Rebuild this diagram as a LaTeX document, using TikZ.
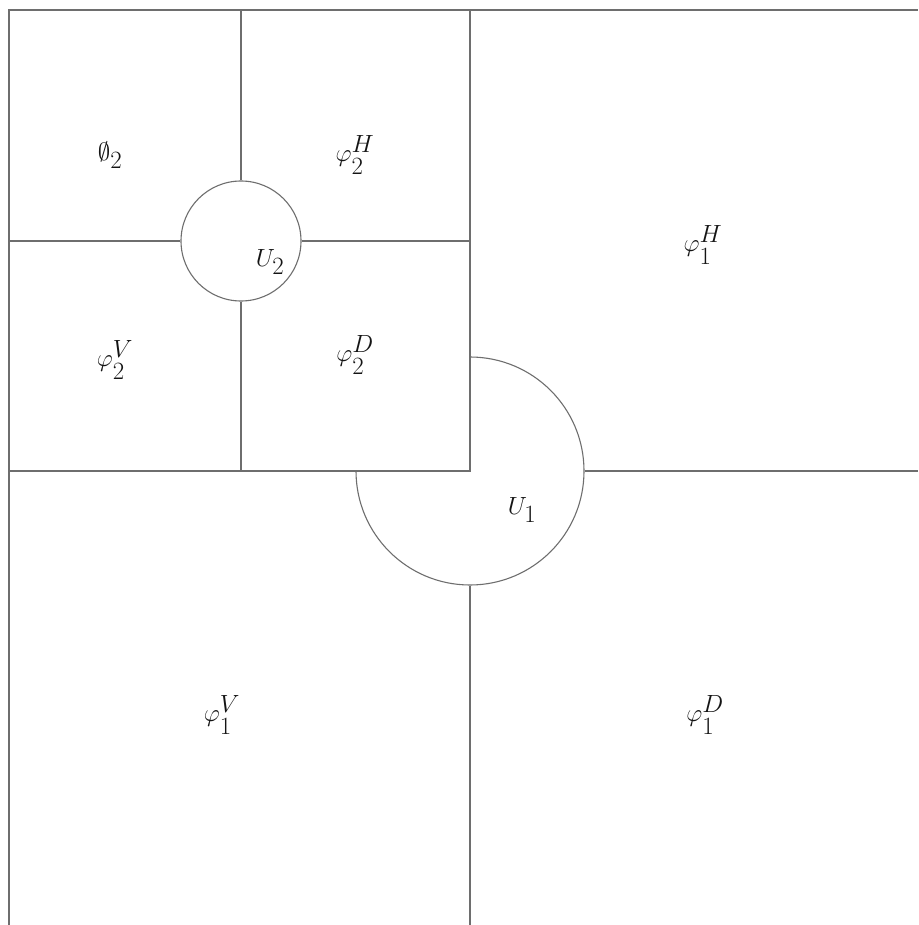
\documentclass[tikz,border=0pt]{standalone}
\usepackage{amssymb}
\usetikzlibrary{positioning}
\definecolor{waveLine}{RGB}{110,110,110}
\definecolor{waveInk}{RGB}{20,20,20}

\begin{document}
\begin{tikzpicture}[x=1pt, y=-1pt,
    edge/.style={draw=waveLine, line width=1.3pt},
    ring/.style={circle, draw=waveLine, line width=1.1pt, fill=white, inner sep=0pt},
    coef/.style={font=\fontsize{35}{40}\selectfont, text=waveInk, inner sep=0pt}
  ]
    \useasboundingbox (0,0) rectangle (918,925);
    \coordinate (tl) at (9,10);
    \coordinate (tr) at (918,10);
    \coordinate (bl) at (9,925);
    \coordinate (sq) at (470,471);

    % level 1
    \node[ring, minimum size=228pt] (u1) at (sq) {};
    \draw[edge, fill=white] (tl) rectangle (sq);
    \draw[edge] (tl) -- (tr);
    \draw[edge] (tl) -- (bl);
    \draw[edge] (u1.east) -- (u1.east -| tr);
    \draw[edge] (u1.south) -- (u1.south |- bl);

    % level 2
    \node[ring, minimum size=120pt] (u2) at (241,241) {};
    \draw[edge] (u2.north) -- (u2.north |- tl);
    \draw[edge] (u2.south) -- (u2.south |- sq);
    \draw[edge] (u2.west) -- (u2.west -| tl);
    \draw[edge] (u2.east) -- (u2.east -| sq);

    \node[coef] (a2) at (110,155) {$\emptyset_2$};
    \node[coef] (h2) at (355,155) {$\varphi_2^H$};
    \node[coef] (v2) at (115,360) {$\varphi_2^V$};
    \node[coef] (d2) at (355,355) {$\varphi_2^D$};
    \node[coef] (lu2) at (270,262) {$U_2$};

    \node[coef] (h1) at (703,245) {$\varphi_1^H$};
    \node[coef] (v1) at (222,715) {$\varphi_1^V$};
    \node[coef] (d1) at (705,715) {$\varphi_1^D$};
    \node[coef] (lu1) at (522,510) {$U_1$};
\end{tikzpicture}
\end{document}
